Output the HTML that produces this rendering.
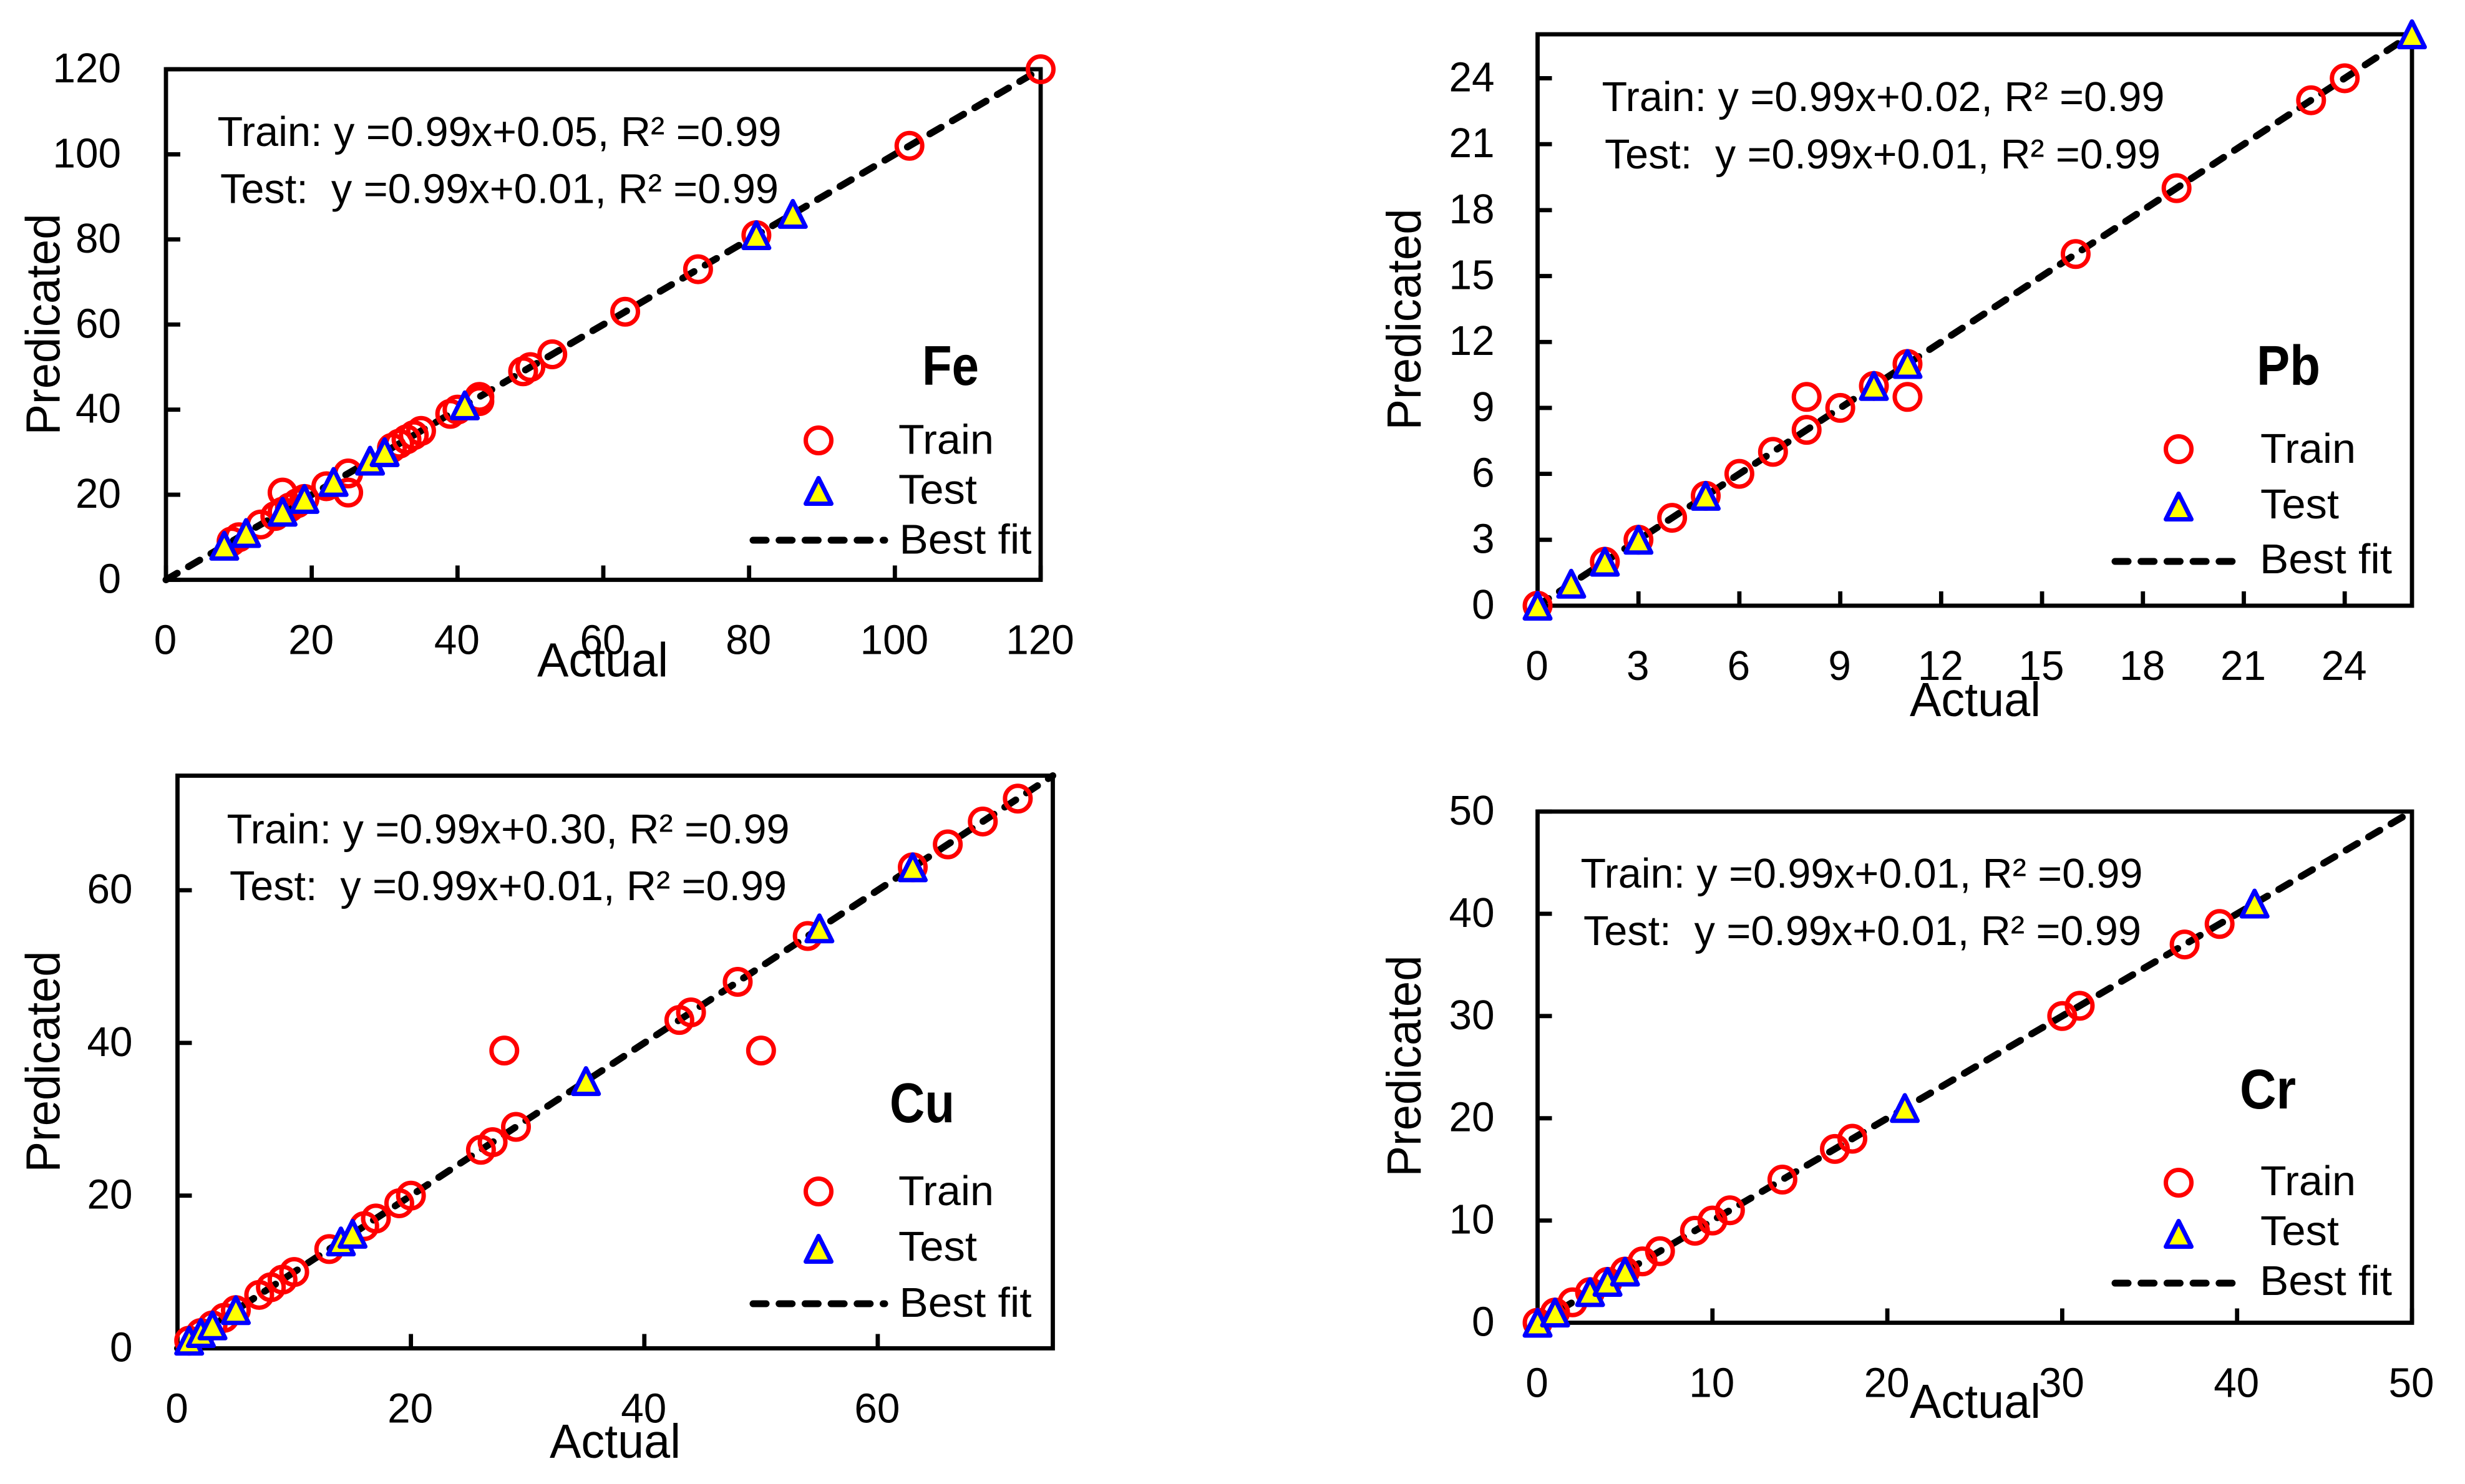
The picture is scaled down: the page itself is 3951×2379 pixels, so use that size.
<!DOCTYPE html>
<html lang="en">
<head>
<meta charset="utf-8">
<title>Actual vs predicated metal concentrations</title>
<style>
  html, body { margin: 0; padding: 0; background: #ffffff; }
  svg { display: block; }
  text { font-family: "Liberation Sans", sans-serif; fill: #000000; }
  .tick { font-size: 67px; }
  .eq { font-size: 67px; }
  .ax { font-size: 77px; }
  .leg { font-size: 67px; }
  .metal { font-size: 90px; font-weight: bold; }
  .legend-line { stroke: #000; stroke-width: 11; stroke-linecap: round; stroke-dasharray: 21 20.7; fill: none; }
  .legend-circle { fill: none; stroke: #ff0000; stroke-width: 7; }
  .legend-tri { fill: #ffff00; stroke: #0000ff; stroke-width: 7; stroke-linejoin: round; }
</style>
</head>
<body>
<svg id="figure" xmlns="http://www.w3.org/2000/svg" width="3951" height="2379" viewBox="0 0 3951 2379">
  <rect x="0" y="0" width="3951" height="2379" fill="#ffffff"/>

  <g>
    <g id="marks-fe"></g>
    <text class="eq" x="348.5" y="234" textLength="904" lengthAdjust="spacingAndGlyphs">Train: y =0.99x+0.05, R² =0.99</text>
    <text class="eq" x="353" y="325.5" textLength="895" lengthAdjust="spacingAndGlyphs" xml:space="preserve">Test:  y =0.99x+0.01, R² =0.99</text>
    <text class="metal" x="1478" y="617" textLength="91" lengthAdjust="spacingAndGlyphs">Fe</text>
    <text class="ax" x="966" y="1084.5" text-anchor="middle" textLength="210" lengthAdjust="spacingAndGlyphs">Actual</text>
    <text class="ax" transform="translate(95.5 520) rotate(-90)" text-anchor="middle" textLength="355" lengthAdjust="spacingAndGlyphs">Predicated</text>
    <g>
      <circle class="legend-circle" cx="1312" cy="706" r="20.5"/>
      <polygon class="legend-tri" points="1312,766.5 1332.5,807.5 1291.5,807.5"/>
      <line class="legend-line" x1="1207" y1="866" x2="1418" y2="866"/>
      <text class="leg" x="1440" y="727.7" textLength="153" lengthAdjust="spacingAndGlyphs">Train</text>
      <text class="leg" x="1440" y="807.7" textLength="126" lengthAdjust="spacingAndGlyphs">Test</text>
      <text class="leg" x="1441.5" y="887.5" textLength="212" lengthAdjust="spacingAndGlyphs">Best fit</text>
    </g>
  </g>

  <g>
    <g id="marks-pb"></g>
    <text class="eq" x="2567.5" y="178" textLength="902" lengthAdjust="spacingAndGlyphs">Train: y =0.99x+0.02, R² =0.99</text>
    <text class="eq" x="2572" y="270" textLength="891" lengthAdjust="spacingAndGlyphs" xml:space="preserve">Test:  y =0.99x+0.01, R² =0.99</text>
    <text class="metal" x="3617" y="617" textLength="102" lengthAdjust="spacingAndGlyphs">Pb</text>
    <text class="ax" x="3166" y="1148" text-anchor="middle" textLength="210" lengthAdjust="spacingAndGlyphs">Actual</text>
    <text class="ax" transform="translate(2277 512) rotate(-90)" text-anchor="middle" textLength="355" lengthAdjust="spacingAndGlyphs">Predicated</text>
    <g>
      <circle class="legend-circle" cx="3492" cy="720" r="20.5"/>
      <polygon class="legend-tri" points="3492,791.5 3512.5,832.5 3471.5,832.5"/>
      <line class="legend-line" x1="3390" y1="900" x2="3598" y2="900"/>
      <text class="leg" x="3623" y="742" textLength="153" lengthAdjust="spacingAndGlyphs">Train</text>
      <text class="leg" x="3623" y="831" textLength="126" lengthAdjust="spacingAndGlyphs">Test</text>
      <text class="leg" x="3622" y="919" textLength="212" lengthAdjust="spacingAndGlyphs">Best fit</text>
    </g>
  </g>

  <g>
    <g id="marks-cu"></g>
    <text class="eq" x="363.5" y="1352" textLength="902" lengthAdjust="spacingAndGlyphs">Train: y =0.99x+0.30, R² =0.99</text>
    <text class="eq" x="368" y="1443" textLength="893" lengthAdjust="spacingAndGlyphs" xml:space="preserve">Test:  y =0.99x+0.01, R² =0.99</text>
    <text class="metal" x="1426" y="1799" textLength="104" lengthAdjust="spacingAndGlyphs">Cu</text>
    <text class="ax" x="986" y="2337" text-anchor="middle" textLength="210" lengthAdjust="spacingAndGlyphs">Actual</text>
    <text class="ax" transform="translate(95.5 1702) rotate(-90)" text-anchor="middle" textLength="355" lengthAdjust="spacingAndGlyphs">Predicated</text>
    <g>
      <circle class="legend-circle" cx="1312" cy="1910" r="20.5"/>
      <polygon class="legend-tri" points="1312,1981.5 1332.5,2022.5 1291.5,2022.5"/>
      <line class="legend-line" x1="1207" y1="2090" x2="1418" y2="2090"/>
      <text class="leg" x="1440" y="1932" textLength="153" lengthAdjust="spacingAndGlyphs">Train</text>
      <text class="leg" x="1440" y="2021" textLength="126" lengthAdjust="spacingAndGlyphs">Test</text>
      <text class="leg" x="1441.5" y="2111" textLength="212" lengthAdjust="spacingAndGlyphs">Best fit</text>
    </g>
  </g>

  <g>
    <g id="marks-cr"></g>
    <text class="eq" x="2533.5" y="1423" textLength="901" lengthAdjust="spacingAndGlyphs">Train: y =0.99x+0.01, R² =0.99</text>
    <text class="eq" x="2538" y="1515" textLength="894" lengthAdjust="spacingAndGlyphs" xml:space="preserve">Test:  y =0.99x+0.01, R² =0.99</text>
    <text class="metal" x="3590" y="1777" textLength="90" lengthAdjust="spacingAndGlyphs">Cr</text>
    <text class="ax" x="3166" y="2273" text-anchor="middle" textLength="210" lengthAdjust="spacingAndGlyphs">Actual</text>
    <text class="ax" transform="translate(2277 1709) rotate(-90)" text-anchor="middle" textLength="355" lengthAdjust="spacingAndGlyphs">Predicated</text>
    <g>
      <circle class="legend-circle" cx="3492" cy="1896" r="20.5"/>
      <polygon class="legend-tri" points="3492,1957.5 3512.5,1998.5 3471.5,1998.5"/>
      <line class="legend-line" x1="3390" y1="2057" x2="3598" y2="2057"/>
      <text class="leg" x="3623" y="1916" textLength="153" lengthAdjust="spacingAndGlyphs">Train</text>
      <text class="leg" x="3623" y="1996" textLength="126" lengthAdjust="spacingAndGlyphs">Test</text>
      <text class="leg" x="3622" y="2076" textLength="212" lengthAdjust="spacingAndGlyphs">Best fit</text>
    </g>
  </g>
</svg>

<script>
// ---- Fe ----
const feXTicks = [0, 20, 40, 60, 80, 100, 120];
const feYTicks = [0, 20, 40, 60, 80, 100, 120];
const feAxisMax = [120, 120];
const feFitActual = [0, 120];
const feFitPredicted = [0, 120];
const feTrainActual = [9, 10, 13, 15, 16, 16, 17, 18, 19, 22, 25, 25, 31, 32, 33, 34, 35, 39, 40, 43, 43, 49, 50, 53, 63, 73, 81, 102, 120];
const feTrainPredicted = [9, 10, 13, 15, 20.5, 16, 17, 18, 19, 22, 25, 20.5, 31, 32, 33, 34, 35, 39, 40, 42, 43, 49, 50, 53, 63, 73, 81, 102, 120];
const feTestActual = [8, 11, 16, 19, 23, 28, 30, 41, 81, 86];
const feTestPredicted = [8, 11, 16, 19, 23, 28, 30, 41, 81, 86];

// ---- Pb ----
const pbXTicks = [0, 3, 6, 9, 12, 15, 18, 21, 24];
const pbYTicks = [0, 3, 6, 9, 12, 15, 18, 21, 24];
const pbAxisMax = [26, 26];
const pbFitActual = [0, 26];
const pbFitPredicted = [0, 26];
const pbTrainActual = [0, 2, 3, 4, 5, 6, 7, 8, 8, 9, 10, 11, 11, 16, 19, 23, 24];
const pbTrainPredicted = [0, 2, 3, 4, 5, 6, 7, 8, 9.5, 9, 10, 11, 9.5, 16, 19, 23, 24];
const pbTestActual = [0, 1, 2, 3, 5, 10, 11, 26];
const pbTestPredicted = [0, 1, 2, 3, 5, 10, 11, 26];

// ---- Cu ----
const cuXTicks = [0, 20, 40, 60];
const cuYTicks = [0, 20, 40, 60];
const cuAxisMax = [75, 75];
const cuFitActual = [0, 75];
const cuFitPredicted = [0, 75];
const cuTrainActual = [1, 2, 3, 4, 5, 7, 8, 9, 10, 13, 16, 17, 19, 20, 26, 27, 28, 29, 43, 44, 48, 50, 54, 63, 66, 69, 72];
const cuTrainPredicted = [1, 2, 3, 4, 5, 7, 8, 9, 10, 13, 16, 17, 19, 20, 26, 27, 39, 29, 43, 44, 48, 39, 54, 63, 66, 69, 72];
const cuTestActual = [1, 2, 3, 5, 14, 15, 35, 55, 63];
const cuTestPredicted = [1, 2, 3, 5, 14, 15, 35, 55, 63];

// ---- Cr ----
const crXTicks = [0, 10, 20, 30, 40, 50];
const crYTicks = [0, 10, 20, 30, 40, 50];
const crAxisMax = [50, 50];
const crFitActual = [0, 50];
const crFitPredicted = [0, 50];
const crTrainActual = [0, 1, 2, 3, 4, 5, 6, 7, 9, 10, 11, 14, 17, 18, 30, 31, 37, 39];
const crTrainPredicted = [0, 1, 2, 3, 4, 5, 6, 7, 9, 10, 11, 14, 17, 18, 30, 31, 37, 39];
const crTestActual = [0, 1, 3, 4, 5, 21, 41];
const crTestPredicted = [0, 1, 3, 4, 5, 21, 41];

const SVG_NS = 'http://www.w3.org/2000/svg';
const AXIS_W = 6.8, TICK_LEN = 23, CIRCLE_R = 20.5, TRI_R = 20.5, DIGIT_W = 36.5;

function make(tag, attrs) {
  const el = document.createElementNS(SVG_NS, tag);
  for (const k in attrs) el.setAttribute(k, attrs[k]);
  return el;
}

function drawChart(id, box, labelGap, xTicks, yTicks, axisMax, fitX, fitY, trainX, trainY, testX, testY) {
  const root = document.getElementById('marks-' + id);
  const sx = v => box.l + (v / axisMax[0]) * (box.r - box.l);
  const sy = v => box.b - (v / axisMax[1]) * (box.b - box.t);

  const frame = make('rect', { x: box.l, y: box.t, width: box.r - box.l, height: box.b - box.t, fill: 'none', stroke: '#000', 'stroke-width': AXIS_W });
  
  
  root.appendChild(frame);

  xTicks.forEach(v => {
    const t = make('line', { x1: sx(v), x2: sx(v), y1: box.b, y2: box.b - TICK_LEN, stroke: '#000', 'stroke-width': AXIS_W });
    
    
    root.appendChild(t);
    const lab = make('text', { class: 'tick', x: sx(v) - 1, y: box.b + 119, 'text-anchor': 'middle', textLength: String(v).length * DIGIT_W, lengthAdjust: 'spacingAndGlyphs' });
    lab.textContent = String(v);
    
    
    root.appendChild(lab);
  });

  yTicks.forEach(v => {
    const t = make('line', { x1: box.l, x2: box.l + TICK_LEN, y1: sy(v), y2: sy(v), stroke: '#000', 'stroke-width': AXIS_W });
    
    
    root.appendChild(t);
    const lab = make('text', { class: 'tick', x: box.l - labelGap, y: sy(v) + 21, 'text-anchor': 'end', textLength: String(v).length * DIGIT_W, lengthAdjust: 'spacingAndGlyphs' });
    lab.textContent = String(v);
    
    
    root.appendChild(lab);
  });

  const fit = make('polyline', {
    points: fitX.map((v, i) => sx(v) + ',' + sy(fitY[i])).join(' '),
    fill: 'none', stroke: '#000', 'stroke-width': 11, 'stroke-linecap': 'round', 'stroke-dasharray': '21 20.7'
  });
  
  
  root.appendChild(fit);

  trainX.forEach((v, i) => {
    const c = make('circle', { cx: sx(v), cy: sy(trainY[i]), r: CIRCLE_R, fill: 'none', stroke: '#ff0000', 'stroke-width': 7 });
    
    
    root.appendChild(c);
  });

  testX.forEach((v, i) => {
    const cx = sx(v), cy = sy(testY[i]);
    const p = make('polygon', {
      points: cx + ',' + (cy - TRI_R) + ' ' + (cx + TRI_R) + ',' + (cy + TRI_R) + ' ' + (cx - TRI_R) + ',' + (cy + TRI_R),
      fill: '#ffff00', stroke: '#0000ff', 'stroke-width': 7, 'stroke-linejoin': 'round'
    });
    
    
    root.appendChild(p);
  });
}

drawChart('fe', { l: 266, r: 1668, t: 111, b: 929.5 }, 72, feXTicks, feYTicks, feAxisMax, feFitActual, feFitPredicted, feTrainActual, feTrainPredicted, feTestActual, feTestPredicted);
drawChart('pb', { l: 2464.5, r: 3866, t: 55, b: 971 }, 69, pbXTicks, pbYTicks, pbAxisMax, pbFitActual, pbFitPredicted, pbTrainActual, pbTrainPredicted, pbTestActual, pbTestPredicted);
drawChart('cu', { l: 284.5, r: 1687.5, t: 1243.5, b: 2161.5 }, 72, cuXTicks, cuYTicks, cuAxisMax, cuFitActual, cuFitPredicted, cuTrainActual, cuTrainPredicted, cuTestActual, cuTestPredicted);
drawChart('cr', { l: 2464.5, r: 3866, t: 1301, b: 2120.5 }, 69, crXTicks, crYTicks, crAxisMax, crFitActual, crFitPredicted, crTrainActual, crTrainPredicted, crTestActual, crTestPredicted);
</script>
</body>
</html>
